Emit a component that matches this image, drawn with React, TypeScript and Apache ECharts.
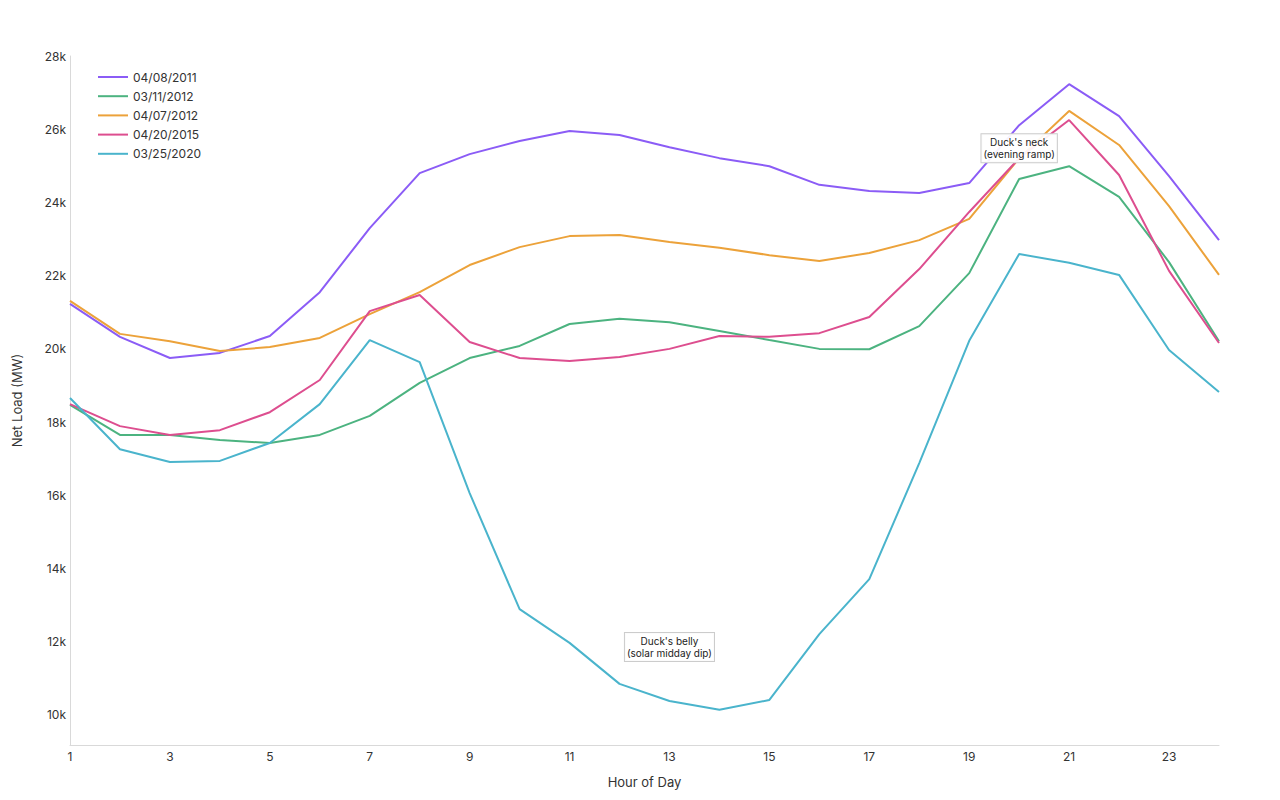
import React, { useEffect, useRef } from "react";
import * as echarts from "echarts";

const hours = ["1","2","3","4","5","6","7","8","9","10","11","12","13","14","15","16","17","18","19","20","21","22","23","24"];

const d20110408 = [21230, 20330, 19750, 19890, 20350, 21550, 23300, 24800, 25320, 25680, 25950, 25840, 25510, 25210, 24990, 24480, 24310, 24260, 24530, 26110, 27230, 26360, 24720, 22970];
const d20120311 = [18470, 17650, 17650, 17510, 17430, 17650, 18170, 19070, 19750, 20080, 20680, 20820, 20730, 20490, 20240, 20000, 19990, 20620, 22070, 24640, 24990, 24150, 22370, 20210];
const d20120407 = [21310, 20410, 20210, 19940, 20050, 20300, 20950, 21550, 22290, 22780, 23080, 23110, 22920, 22760, 22560, 22400, 22620, 22970, 23550, 25210, 26500, 25570, 23900, 22020];
const d20150420 = [18490, 17890, 17650, 17780, 18270, 19150, 21030, 21470, 20190, 19750, 19670, 19780, 20000, 20350, 20330, 20430, 20870, 22180, 23740, 25210, 26250, 24750, 22130, 20160];
const d20200325 = [18660, 17260, 16910, 16940, 17430, 18490, 20240, 19640, 16060, 12890, 11970, 10850, 10380, 10140, 10410, 12210, 13710, 16880, 20220, 22590, 22350, 22020, 19970, 18820];

const seriesNames = ["04/08/2011", "03/11/2012", "04/07/2012", "04/20/2015", "03/25/2020"];
const seriesColors = ["#8b5cf6", "#4cb380", "#eca23a", "#dd4e8f", "#4ab4cc"];
const seriesData = [d20110408, d20120311, d20120407, d20150420, d20200325];

const yTickValues = [10000, 12000, 14000, 16000, 18000, 20000, 22000, 24000, 26000, 28000];

const annotations = [
  { hour: "20", value: 25480, text: "Duck's neck\n(evening ramp)" },
  { hour: "13", value: 11860, text: "Duck's belly\n(solar midday dip)" },
];

const FONT = "Inter, 'Noto Sans', sans-serif";

export default function App() {
  const ref = useRef<HTMLDivElement>(null);
  useEffect(() => {
    if (!ref.current) return;
    const chart = echarts.init(ref.current, undefined, { renderer: "svg" });
    const series: any[] = seriesNames.map((name, i) => ({
      name,
      type: "line",
      data: seriesData[i],
      symbol: "none",
      showSymbol: false,
      lineStyle: { width: 2, color: seriesColors[i] },
      itemStyle: { color: seriesColors[i] },
      z: 2,
    }));
    series.push({
      name: "annotations",
      type: "line",
      data: [],
      silent: true,
      z: 10,
      markPoint: {
        symbol: "rect",
        symbolSize: 0,
        silent: true,
        data: annotations.map((a) => ({
          coord: [a.hour, a.value],
          label: {
            show: true,
            position: "inside",
            formatter: a.text,
            fontFamily: FONT,
            fontSize: 10,
            lineHeight: 12,
            color: "#222",
            align: "center",
            backgroundColor: "rgba(255,255,255,0.92)",
            borderColor: "#cccccc",
            borderWidth: 1,
            padding: [2, 2, 2, 2],
          },
        })),
      },
    });
    chart.setOption({
      animation: false,
      textStyle: { fontFamily: FONT },
      grid: { left: 70, right: 61, top: 56, bottom: 55, containLabel: false, outerBoundsMode: "none" },
      legend: {
        show: true,
        data: seriesNames,
        orient: "vertical",
        left: 93,
        top: 66,
        itemWidth: 30,
        itemHeight: 10,
        itemGap: 7.2,
        icon: "path://M0,4 L30,4 L30,6 L0,6 Z",
        textStyle: { fontFamily: FONT, fontSize: 12, color: "#333" },
      },
      xAxis: {
        type: "category",
        data: hours,
        boundaryGap: false,
        name: "Hour of Day",
        nameLocation: "middle",
        nameGap: 30,
        nameTextStyle: { fontFamily: FONT, fontSize: 13, color: "#333" },
        axisLine: { show: true, lineStyle: { color: "#d9d9d9", width: 1 } },
        axisTick: { show: false },
        axisLabel: { interval: 1, color: "#333", fontSize: 12, fontFamily: FONT, margin: 5 },
        splitLine: { show: false },
      },
      yAxis: {
        type: "value",
        min: 9180,
        max: 28000,
        name: "Net Load (MW)",
        nameLocation: "middle",
        nameGap: 47,
        nameTextStyle: { fontFamily: FONT, fontSize: 13, color: "#333" },
        axisLine: { show: true, lineStyle: { color: "#d9d9d9", width: 1 } },
        axisTick: { show: false },
        splitLine: { show: false },
        axisLabel: {
          customValues: yTickValues,
          color: "#333",
          fontSize: 12,
          fontFamily: FONT,
          margin: 4,
          formatter: (v: number) => `${Math.round(v / 1000)}k`,
        },
      },
      series,
    });
    return () => chart.dispose();
  }, []);
  return (
    <div
      ref={ref}
      style={{ position: "absolute", left: 0, top: 0, width: 1280, height: 800, background: "#fff" }}
    />
  );
}
